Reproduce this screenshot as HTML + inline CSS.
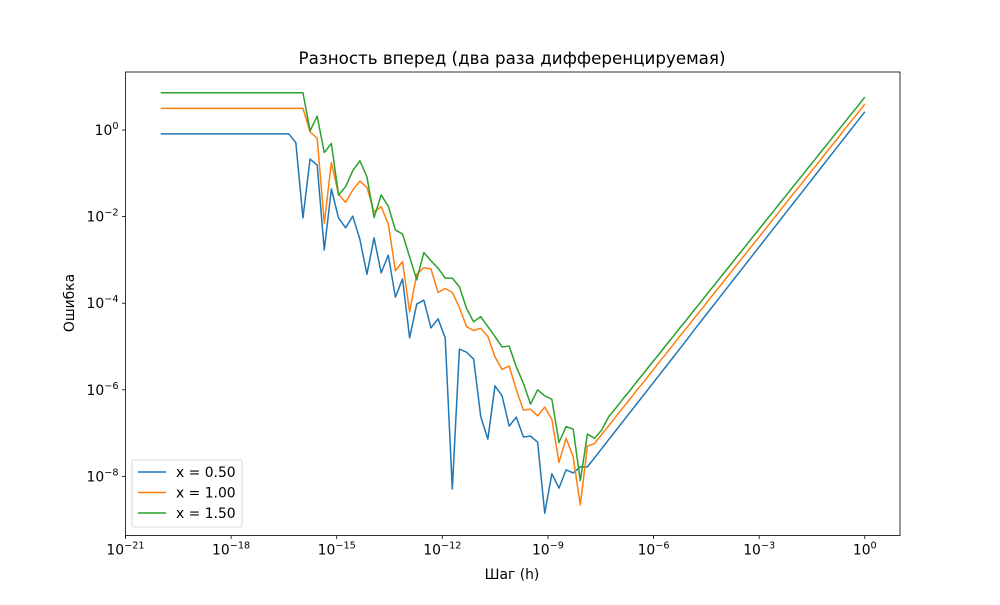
<!DOCTYPE html>
<html><head><meta charset="utf-8"><style>
body{margin:0;background:#fff;}
svg{font-family:"DejaVu Sans","Liberation Sans",sans-serif;}
</style></head><body>
<svg id="chart" width="1000" height="600" viewBox="0 0 1000 600">
<rect width="1000" height="600" fill="#fff"/>
<text x="512" y="64" font-size="16.7" text-anchor="middle">Разность вперед (два раза дифференцируемая)</text>
<text x="512" y="579" font-size="13.9" text-anchor="middle">Шаг (h)</text>
<text transform="translate(74,303) rotate(-90)" font-size="13.9" text-anchor="middle">Ошибка</text>
<g id="plot"></g>
</svg>
<script>
const xTickExps = [-21,-18,-15,-12,-9,-6,-3,0];
const yTickExps = [0,-2,-4,-6,-8];
const seriesLabels = ["x = 0.50","x = 1.00","x = 1.50"];
const seriesColors = ["#1f77b4","#ff7f0e","#2ca02c"];
// step exponents: h = logspace(-20, 0, 100)
const hLogStart = -20, hLogEnd = 0, hCount = 100;
// log10 of error, per series
const blueLog = [].concat(Array(19).fill(-0.09),[
-0.29,-2.03,-0.67,-0.81,-2.77,-1.36,-2.03,-2.26,-1.99,-2.52,-3.33,-2.49,-3.30,-2.89,-3.86,-3.44,-4.80,-4.02,-3.93,-4.57,-4.36,-4.80,
-8.29,-5.06,-5.13,-5.29,-6.62,-7.14,-5.91,-6.14,-6.84,-6.63,
-7.09,-7.07,-7.21,-8.85,-7.94,-8.27,-7.85,-7.92,-7.78,-7.78,
-7.57,-7.36,-7.15,-6.94,-6.73,-6.52,-6.31,-6.10,-5.89,-5.68,
-5.47,-5.26,-5.05,-4.84,-4.62,-4.41,-4.20,-3.99,-3.78,-3.57,
-3.36,-3.15,-2.94,-2.73,-2.52,-2.31,-2.10,-1.89,-1.68,-1.47,
-1.26,-1.05,-0.84,-0.63,-0.42,-0.21,0.00,0.21,0.42]);
const orangeLog = [].concat(Array(21).fill(0.50),[
-0.04,-0.19,-2.15,-0.75,-1.48,-1.67,-1.39,-1.18,-1.33,-1.89,
-1.77,-2.17,-3.25,-3.04,-4.20,-3.33,-3.18,-3.21,-3.75,-3.66,
-3.75,-4.10,-4.54,-4.63,-4.58,-4.77,-5.24,-5.53,-5.45,-6.00,
-6.47,-6.45,-6.60,-6.40,-6.68,-7.68,-7.12,-7.55,-8.66,-7.30,
-7.24,-7.03,-6.83,-6.62,-6.41,-6.21,-6.00,-5.80,-5.59,-5.38,
-5.18,-4.97,-4.76,-4.56,-4.35,-4.15,-3.94,-3.73,-3.53,-3.32,
-3.11,-2.91,-2.70,-2.50,-2.29,-2.08,-1.88,-1.67,-1.46,-1.26,
-1.05,-0.85,-0.64,-0.43,-0.23,-0.02,0.19,0.39,0.60]);
const greenLog = [].concat(Array(21).fill(0.86),[
-0.02,0.32,-0.52,-0.31,-1.50,-1.31,-0.94,-0.71,-1.08,-2.02,
-1.50,-1.76,-2.31,-2.40,-2.93,-3.46,-2.83,-3.02,-3.19,-3.42,
-3.42,-3.62,-4.12,-4.43,-4.31,-4.54,-4.77,-5.01,-4.99,-5.47,
-5.85,-6.33,-6.00,-6.14,-6.22,-7.22,-6.85,-6.91,-8.10,-7.02,
-7.12,-6.93,-6.62,-6.42,-6.21,-6.01,-5.80,-5.60,-5.39,-5.19,
-4.98,-4.78,-4.57,-4.37,-4.16,-3.96,-3.75,-3.55,-3.34,-3.14,
-2.93,-2.73,-2.52,-2.32,-2.11,-1.91,-1.70,-1.50,-1.29,-1.09,
-0.88,-0.68,-0.47,-0.27,-0.06,0.14,0.35,0.55,0.76]);

const L=125.5,R=900,T=72,B=535.5;
const xMin=-21,xMax=1.0,yMin=-9.365,yMax=1.34;
const sx=v=>L+(v-xMin)/(xMax-xMin)*(R-L);
const sy=v=>B-(v-yMin)/(yMax-yMin)*(B-T);
const hStep=(hLogEnd-hLogStart)/(hCount-1);
const NS="http://www.w3.org/2000/svg";
const g=document.getElementById('plot');
function mk(tag,attrs,parent){const e=document.createElementNS(NS,tag);for(const k in attrs)e.setAttribute(k,attrs[k]);(parent||g).appendChild(e);return e;}

const clip=mk('clipPath',{id:'clipA'});mk('rect',{x:L,y:T,width:R-L,height:B-T},clip);
[blueLog,orangeLog,greenLog].forEach((arr,s)=>{
  const d=arr.map((v,i)=>(i?'L':'M')+sx(hLogStart+i*hStep).toFixed(2)+' '+sy(v).toFixed(2)).join(' ');
  const p=mk('path',{d:d,fill:'none',stroke:seriesColors[s],'stroke-width':1.5,'stroke-linejoin':'round','clip-path':'url(#clipA)'});
  
  
});
const frame=mk('rect',{x:L,y:T,width:R-L,height:B-T,fill:'none',stroke:'#000','stroke-width':0.8});


xTickExps.forEach(e=>{
  const x=sx(e);
  mk('line',{x1:x,x2:x,y1:B,y2:B+3.5,stroke:'#000','stroke-width':0.8});
  const t=mk('text',{x:x,y:B+19,'font-size':13.9,'text-anchor':'middle'});
  
  
  t.innerHTML='10<tspan dy="-6" font-size="9.7">'+(e<0?'\u2212':'')+Math.abs(e)+'</tspan>';
});
yTickExps.forEach(e=>{
  const y=sy(e);
  mk('line',{x1:L,x2:L-3.5,y1:y,y2:y,stroke:'#000','stroke-width':0.8});
  const t=mk('text',{x:L-7,y:y+5,'font-size':13.9,'text-anchor':'end'});
  
  
  t.innerHTML='10<tspan dy="-6" font-size="9.7">'+(e<0?'\u2212':'')+Math.abs(e)+'</tspan>';
});
const lg=mk('g',{});


mk('rect',{x:132,y:460,width:110,height:67,rx:2,fill:'#fff','fill-opacity':0.8,stroke:'#ccc','stroke-width':0.8},lg);
seriesLabels.forEach((lab,s)=>{
  const y=472+s*20.5;
  const e=mk('g',{},lg);
  
  
  mk('line',{x1:138,x2:166,y1:y,y2:y,stroke:seriesColors[s],'stroke-width':1.5},e);
  const t=mk('text',{x:176,y:y+5,'font-size':13.9},e);
  t.textContent=lab;
});
</script>
</body></html>
